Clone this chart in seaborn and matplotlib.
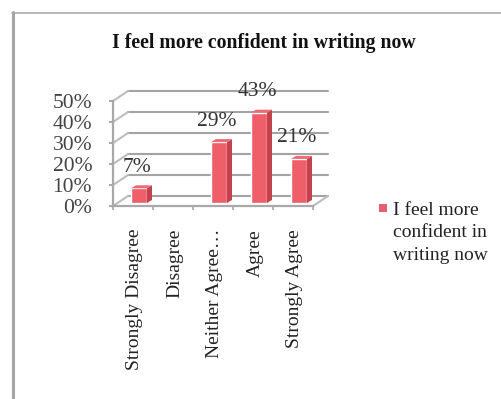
import matplotlib
matplotlib.use("Agg")
import matplotlib.pyplot as plt
import matplotlib.transforms as mtransforms
import pandas as pd
import seaborn as sns
from matplotlib.lines import Line2D
from matplotlib.patches import Polygon, Rectangle

categories = ["Strongly Disagree", "Disagree", "Neither Agree…", "Agree", "Strongly Agree"]
shares = [7, 0, 29, 43, 21]
y_ticks = [0, 10, 20, 30, 40, 50]
title_text = "I feel more confident in writing now"
legend_text = "I feel more\nconfident in\nwriting now"

W, H = 502, 399
SERIF = "Liberation Serif"
GRID = "#a3a3a3"
FRONT = "#ee5f69"
SIDE = "#c2424d"
TOP = "#ee6a74"

sns.set_theme(style="white")
plt.rcParams["font.family"] = SERIF

fig = plt.figure(figsize=(W / 100, H / 100), dpi=100)
# Plot box in pixels: front floor runs 113..313 across, 206..101 upward
ax = fig.add_axes([113 / W, 1 - 206 / H, 200 / W, 105 / H])

frame = pd.DataFrame({"category": categories, "share": shares})
sns.barplot(data=frame, x="category", y="share", width=0.4, color=FRONT,
            saturation=1, ax=ax, zorder=4)
ax.set_xlim(-0.5, 4.5)
ax.set_ylim(0, 50)

px_x = 5 / 200   # data units per pixel, horizontally
px_y = 50 / 105  # data units per pixel, vertically
wall_dx, wall_dy = 15 * px_x, 10 * px_y
bar_dx, bar_dy = 6 * px_x, 3 * px_y
side_dx, side_dy = 5 * px_x, 3 * px_y

# Back wall, left wall and floor of the pseudo-3D box
x0, x1 = -0.5, 4.5
for t in y_ticks:
    ax.plot([x0 + wall_dx, x1 + wall_dx], [t + wall_dy, t + wall_dy], color=GRID,
            lw=1.5, clip_on=False, zorder=1)
    ax.plot([x0, x0 + wall_dx], [t, t + wall_dy], color="#bdbdbd", lw=1.5,
            clip_on=False, zorder=1)
ax.plot([x1, x1 + wall_dx], [0, wall_dy], color="#bdbdbd", lw=1.5, clip_on=False, zorder=1)

# Bars: shift onto the floor, then add the side and top faces
for patch, value in zip(ax.patches, shares):
    if value == 0:
        patch.set_visible(False)
        continue
    left = patch.get_x() + bar_dx
    right = left + patch.get_width()
    patch.set_x(left)
    patch.set_y(bar_dy)
    patch.set_clip_on(False)
    base, top = bar_dy, bar_dy + value
    ax.add_patch(Polygon([(right, base), (right + side_dx, base + side_dy),
                          (right + side_dx, top + side_dy), (right, top)],
                         closed=True, fc=SIDE, ec="none", clip_on=False, zorder=4))
    ax.add_patch(Polygon([(left, top), (right, top), (right + side_dx, top + side_dy),
                          (left + side_dx, top + side_dy)],
                         closed=True, fc=TOP, ec="none", clip_on=False, zorder=4))
    ax.annotate(f"{value}%", xy=((left + right) / 2, top), xytext=(-2, 21),
                textcoords="offset pixels", ha="center", va="center",
                fontsize=15.5, color="#333333", zorder=6, annotation_clip=False)

for side in ("top", "right"):
    ax.spines[side].set_visible(False)
for side in ("left", "bottom"):
    ax.spines[side].set_color("#a8a8a8")
    ax.spines[side].set_linewidth(1.6)

ax.set_xlabel("")
ax.set_ylabel("")
ax.set_yticks(y_ticks)
ax.set_yticklabels([f"{t}%" for t in y_ticks], fontsize=15.5, color="#444444")
ax.set_xticks([i - 0.5 for i in range(6)], minor=True)
ax.set_xticks(range(5))
ax.set_xticklabels(categories, rotation=90, fontsize=14, color="#222222")
ax.tick_params(axis="y", length=3, width=1.4, color="#a8a8a8", pad=12, left=True)
ax.tick_params(axis="x", which="major", length=0, pad=16.5)
ax.tick_params(axis="x", which="minor", length=3, width=1.2, color="#a8a8a8", bottom=True)
# Nudge the rotated category labels; tick_params resets transforms, so this comes after it
label_shift = mtransforms.Affine2D().translate(2, 0)
for label in ax.get_xticklabels():
    label.set_transform(label.get_transform() + label_shift)

fig.text(263.5 / W, 1 - 43 / H, title_text, ha="center", va="center",
         fontsize=14.2, fontweight="bold", color="#111111")

# Legend key and wrapped label
fig.add_artist(Rectangle((379 / W, 1 - 212 / H), 8 / W, 8 / H, transform=fig.transFigure,
                         fc="#e8606f", ec="none"))
fig.text(393 / W, 1 - 202 / H, legend_text, ha="left", va="top", fontsize=14,
         linespacing=1.42, color="#222222")

# Outer chart border along the top and left edges
fig.add_artist(Line2D([12 / W, 1], [1 - 12.5 / H, 1 - 12.5 / H], color="#a6a6a6", lw=1.1))
fig.add_artist(Line2D([13 / W, 13 / W], [0, 1 - 12 / H], color="#a6a6a6", lw=2.2))

fig.savefig("out.png", dpi=100)
